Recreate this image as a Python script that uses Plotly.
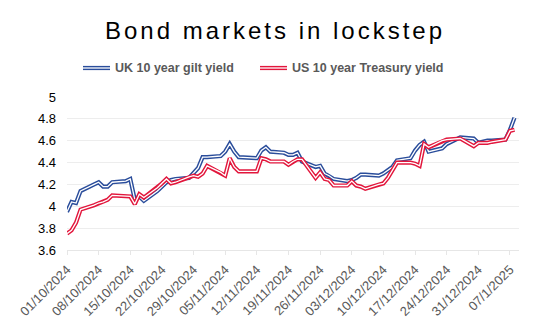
import plotly.graph_objects as go

# ---------------- data ----------------
dates = [
    "2024-10-01", "2024-10-02", "2024-10-03", "2024-10-04",
    "2024-10-07", "2024-10-08", "2024-10-09", "2024-10-10", "2024-10-11",
    "2024-10-14", "2024-10-15", "2024-10-16", "2024-10-17", "2024-10-18",
    "2024-10-21", "2024-10-22", "2024-10-23", "2024-10-24", "2024-10-25",
    "2024-10-28", "2024-10-29", "2024-10-30", "2024-10-31", "2024-11-01",
    "2024-11-04", "2024-11-05", "2024-11-06", "2024-11-07", "2024-11-08",
    "2024-11-11", "2024-11-12", "2024-11-13", "2024-11-14", "2024-11-15",
    "2024-11-18", "2024-11-19", "2024-11-20", "2024-11-21", "2024-11-22",
    "2024-11-25", "2024-11-26", "2024-11-27", "2024-11-28", "2024-11-29",
    "2024-12-02", "2024-12-03", "2024-12-04", "2024-12-05", "2024-12-06",
    "2024-12-09", "2024-12-10", "2024-12-11", "2024-12-12", "2024-12-13",
    "2024-12-16", "2024-12-17", "2024-12-18", "2024-12-19", "2024-12-20",
    "2024-12-23", "2024-12-24", "2024-12-27",
    "2024-12-30", "2024-12-31", "2025-01-02", "2025-01-03",
    "2025-01-06", "2025-01-07", "2025-01-08",
]

uk_gilt = [
    3.95, 4.04, 4.03, 4.14,
    4.20, 4.22, 4.18, 4.18, 4.22,
    4.23, 4.25, 4.06, 4.09, 4.05,
    4.14, 4.18, 4.22, 4.24, 4.25,
    4.26, 4.31, 4.35, 4.45, 4.45,
    4.46, 4.50, 4.57, 4.50, 4.45,
    4.44, 4.44, 4.51, 4.54, 4.50,
    4.49, 4.47, 4.47, 4.49, 4.41,
    4.36, 4.37, 4.30, 4.28, 4.25,
    4.23, 4.24, 4.26, 4.29, 4.29,
    4.28, 4.30, 4.33, 4.36, 4.42,
    4.44, 4.51, 4.56, 4.59, 4.50,
    4.53, 4.57, 4.63,
    4.62, 4.58, 4.60, 4.60,
    4.61, 4.70, 4.81,
]

us_treasury = [
    3.75, 3.78, 3.85, 3.97,
    4.01, 4.03, 4.04, 4.06, 4.10,
    4.09, 4.09, 4.02, 4.11, 4.08,
    4.17, 4.21, 4.25, 4.21, 4.22,
    4.27, 4.28, 4.27, 4.30, 4.37,
    4.31, 4.28, 4.44, 4.36, 4.32,
    4.32, 4.32, 4.44, 4.43, 4.41,
    4.41, 4.38, 4.41, 4.43, 4.43,
    4.26, 4.31, 4.25, 4.24, 4.19,
    4.19, 4.23, 4.19, 4.18, 4.16,
    4.20, 4.21, 4.26, 4.33, 4.40,
    4.40, 4.39, 4.37, 4.57, 4.54,
    4.60, 4.61, 4.62,
    4.55, 4.58, 4.58, 4.59,
    4.61, 4.69, 4.70,
]

series_names = ["UK 10 year gilt yield", "US 10 year Treasury yield"]
series_colors = ["#2A4D9B", "#E2163C"]

x_tick_dates = [
    "2024-10-01", "2024-10-08", "2024-10-15", "2024-10-22", "2024-10-29",
    "2024-11-05", "2024-11-12", "2024-11-19", "2024-11-26", "2024-12-03",
    "2024-12-10", "2024-12-17", "2024-12-24", "2024-12-31", "2025-01-07",
]
x_tick_labels = [
    "01/10/2024", "08/10/2024", "15/10/2024", "22/10/2024", "29/10/2024",
    "05/11/2024", "12/11/2024", "19/11/2024", "26/11/2024", "03/12/2024",
    "10/12/2024", "17/12/2024", "24/12/2024", "31/12/2024", "07/1/2025",
]
y_tick_vals = [3.6, 3.8, 4.0, 4.2, 4.4, 4.6, 4.8, 5.0]
y_tick_labels = ["3.6", "3.8", "4", "4.2", "4.4", "4.6", "4.8", "5"]

title_text = "Bond markets in lockstep"

# ---------------- figure ----------------
W, H = 550, 330
ML, MR, MT, MB = 67, 31, 97, 80
FONT = "Liberation Sans, Arial, sans-serif"

fig = go.Figure()

for name, vals, col in zip(series_names, [uk_gilt, us_treasury], series_colors):
    # outer coloured stroke
    fig.add_trace(go.Scatter(
        x=dates, y=vals, mode="lines", name=name,
        line=dict(color=col, width=4.2), showlegend=False, hoverinfo="skip",
    ))
    # inner white stroke -> compound "double" line
    fig.add_trace(go.Scatter(
        x=dates, y=vals, mode="lines", name=name,
        line=dict(color="white", width=1.3), showlegend=False, hoverinfo="skip",
    ))

# custom legend with double-line swatches
pw = W - ML - MR
ph = H - MT - MB


def px_to_paper_x(px):
    return (px - ML) / pw


def py_to_paper_y(py):
    return (H - MB - py) / ph


legend_y = 68
legend_items = [(83, 110, 113), (260, 287, 290)]
shapes = []
annotations = []
for (x0, x1, tx), name, col in zip(legend_items, series_names, series_colors):
    for c, w in [(col, 4.2), ("white", 1.3)]:
        shapes.append(dict(
            type="line", xref="paper", yref="paper",
            x0=px_to_paper_x(x0), x1=px_to_paper_x(x1),
            y0=py_to_paper_y(legend_y), y1=py_to_paper_y(legend_y),
            line=dict(color=c, width=w),
        ))
    annotations.append(dict(
        text=name, xref="paper", yref="paper",
        x=px_to_paper_x(tx), y=py_to_paper_y(legend_y),
        xanchor="left", yanchor="middle", showarrow=False,
        font=dict(family=FONT, size=12.5, color="#595959", weight="bold"),
    ))

fig.update_layout(
    width=W, height=H,
    margin=dict(l=ML, r=MR, t=MT, b=MB, pad=0),
    paper_bgcolor="white", plot_bgcolor="white",
    title=dict(
        text=title_text, x=0.5, xref="container", xanchor="center",
        y=1 - 31 / H, yref="container", yanchor="middle",
        font=dict(family=FONT, size=24, color="#000000"),
    ),
    shapes=shapes,
    annotations=annotations,
    showlegend=False,
    xaxis=dict(
        type="date",
        range=["2024-10-01", "2025-01-09"],
        tickvals=x_tick_dates, ticktext=x_tick_labels,
        tickangle=-45,
        tickfont=dict(family=FONT, size=13, color="#595959"),
        showgrid=False, zeroline=False,
        showline=True, linecolor="#E6E6E6", linewidth=1,
        ticks="outside", ticklen=4, tickcolor="#E6E6E6", tickwidth=1,
        ticklabelstandoff=2,
    ),
    yaxis=dict(
        range=[3.6, 5.0],
        tickvals=y_tick_vals, ticktext=y_tick_labels,
        tickfont=dict(family=FONT, size=13, color="#000000"),
        showgrid=True, gridcolor="#EDEDED", gridwidth=1,
        zeroline=False, showline=False, ticks="",
        ticklabelstandoff=10,
    ),
)

post = (
    "document.querySelectorAll('.gtitle').forEach(function(e){"
    "e.style.letterSpacing='3px';});"
)
fig.write_html("out.html", post_script=post)
